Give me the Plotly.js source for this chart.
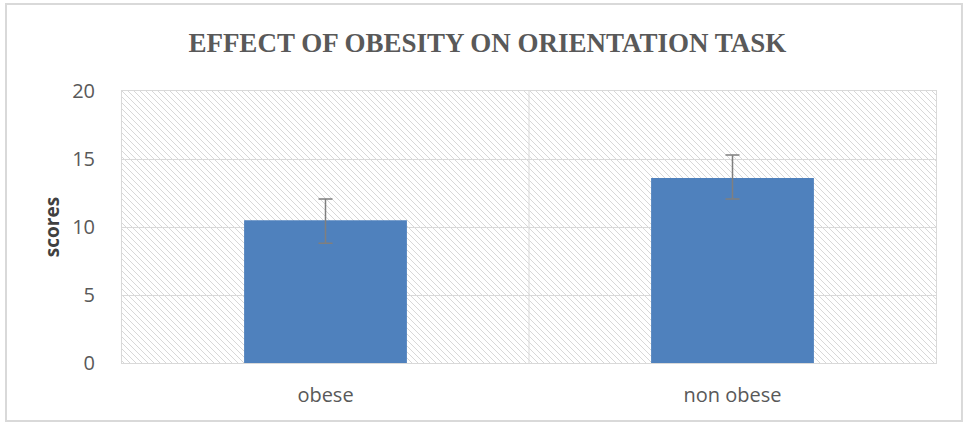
<!DOCTYPE html>
<html>
<head>
<meta charset="utf-8">
<script src="https://cdn.plot.ly/plotly-3.0.1.min.js"></script>
<style>html,body{margin:0;padding:0;background:#fff;}#chart{width:965px;height:425px;}</style>
</head>
<body>
<div id="chart"></div>
<script>
const categories = ["obese", "non obese"];
const scores = [10.5, 13.6];
const errorsPlus = [1.55, 1.7];
const errorsMinus = [1.7, 1.55];
const yTicks = [0, 5, 10, 15, 20];

const hatchSvg = '<svg xmlns="http://www.w3.org/2000/svg" width="814" height="272">' +
  '<defs><pattern id="h" patternUnits="userSpaceOnUse" width="6" height="6">' +
  '<path d="M-1,-1 L7,7 M-1,5 L1,7 M5,-1 L7,1" stroke="#d8d8d8" stroke-width="1"/></pattern></defs>' +
  '<rect width="814" height="272" fill="url(#h)"/></svg>';
const hatchUrl = 'data:image/svg+xml;charset=utf-8,' + encodeURIComponent(hatchSvg);

const trace = {
  type: 'bar',
  x: categories,
  y: scores,
  marker: {color: '#4f81bd'},
  width: 0.4,
  error_y: {
    type: 'data',
    symmetric: false,
    array: errorsPlus,
    arrayminus: errorsMinus,
    color: '#7f7f7f',
    thickness: 1.5,
    width: 7
  },
  hoverinfo: 'none'
};

const layout = {
  width: 965,
  height: 425,
  margin: {l: 122, r: 29, t: 91, b: 62},
  paper_bgcolor: '#ffffff',
  plot_bgcolor: 'rgba(0,0,0,0)',
  showlegend: false,
  title: {
    text: 'EFFECT OF OBESITY ON ORIENTATION TASK',
    font: {family: 'Liberation Serif', size: 27, color: '#595959', weight: 'bold'},
    xref: 'container', x: 0.505, xanchor: 'center',
    yref: 'container', y: 0.9, yanchor: 'middle'
  },
  xaxis: {
    type: 'category',
    range: [-0.5, 1.5],
    showgrid: false,
    showline: true, mirror: true, linecolor: '#d9d9d9', linewidth: 1,
    ticks: '',
    tickfont: {family: 'Open Sans', size: 20, color: '#595959'},
    ticklabelstandoff: 14
  },
  yaxis: {
    range: [0, 20],
    tickvals: yTicks,
    ticktext: yTicks.map(String),
    showgrid: true, gridcolor: '#d9d9d9', gridwidth: 1,
    showline: true, mirror: true, linecolor: '#d9d9d9', linewidth: 1,
    zeroline: false,
    ticks: '',
    ticklabelstandoff: 22,
    tickfont: {family: 'Open Sans', size: 20, color: '#595959'},
    title: {text: 'scores', font: {family: 'Open Sans', size: 19, color: '#404040', weight: 'bold'}, standoff: 7}
  },
  images: [{
    source: hatchUrl,
    xref: 'paper', yref: 'paper',
    x: 0, y: 1, sizex: 1, sizey: 1,
    xanchor: 'left', yanchor: 'top',
    sizing: 'stretch', layer: 'below'
  }],
  shapes: [
    {type: 'line', xref: 'x', yref: 'paper', x0: 0.5, x1: 0.5, y0: 0, y1: 1, line: {color: '#d9d9d9', width: 1}, layer: 'below'},
    {type: 'rect', xref: 'paper', yref: 'paper', x0: -0.1425, x1: 1.0319, y0: -0.2132, y1: 1.3199, line: {color: '#d9d9d9', width: 2}, fillcolor: 'rgba(0,0,0,0)'}
  ]
};

Plotly.newPlot('chart', [trace], layout, {displayModeBar: false, staticPlot: true});
</script>
</body>
</html>
